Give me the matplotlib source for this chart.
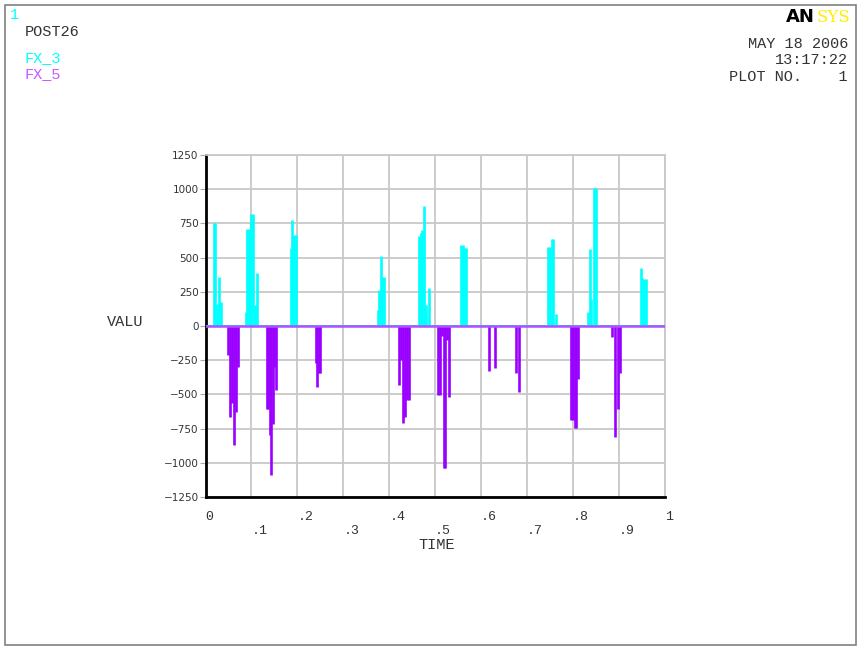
import matplotlib
matplotlib.use("Agg")
import matplotlib.pyplot as plt
from matplotlib.patches import Rectangle

# FX_3 reaction (cyan spikes)
fx3_time = [0.018, 0.021, 0.024, 0.030, 0.034,
            0.088, 0.091, 0.094, 0.097, 0.100, 0.104, 0.108, 0.111,
            0.186, 0.189, 0.193, 0.197,
            0.375, 0.378, 0.381, 0.384, 0.388,
            0.464, 0.468, 0.471, 0.476, 0.480, 0.486,
            0.556, 0.560, 0.564, 0.568,
            0.745, 0.749, 0.753, 0.757, 0.762,
            0.833, 0.836, 0.840, 0.846, 0.850,
            0.947, 0.951, 0.955, 0.959]
fx3_value = [750, 755, 160, 360, 178,
             100, 709, 709, 420, 819, 819, 150, 385,
             570, 775, 665, 665,
             120, 263, 512, 360, 360,
             660, 682, 700, 877, 150, 280,
             592, 592, 573, 573,
             575, 575, 638, 638, 88,
             100, 560, 200, 1006, 1006,
             421, 348, 346, 346]

# FX_5 reaction (purple spikes)
fx5_time = [0.050, 0.054, 0.058, 0.062, 0.066, 0.070,
            0.133, 0.137, 0.140, 0.143, 0.146, 0.149, 0.153,
            0.241, 0.243, 0.247, 0.249,
            0.422, 0.426, 0.430, 0.434, 0.438, 0.442,
            0.507, 0.510, 0.514, 0.518, 0.521, 0.525, 0.529,
            0.617, 0.630, 0.675, 0.683,
            0.796, 0.800, 0.804, 0.807, 0.810,
            0.884, 0.892, 0.898, 0.902]
fx5_value = [-210, -663, -560, -870, -630, -300,
             -610, -610, -800, -1089, -720, -300, -468,
             -270, -443, -341, -341,
             -431, -250, -712, -668, -541, -541,
             -506, -506, -70, -1040, -1040, -100, -521,
             -327, -310, -346, -480,
             -687, -687, -748, -748, -390,
             -78, -814, -609, -345]

x_ticks = [0, 0.1, 0.2, 0.3, 0.4, 0.5, 0.6, 0.7, 0.8, 0.9, 1.0]
x_labels = ["0", ".1", ".2", ".3", ".4", ".5", ".6", ".7", ".8", ".9", "1"]
y_ticks = [1250, 1000, 750, 500, 250, 0, -250, -500, -750, -1000, -1250]

cyan = "#00ffff"
purple = "#9900ff"
mono = "Liberation Mono"

fig = plt.figure(figsize=(8.58, 6.48), dpi=100)
fig.patches.append(Rectangle((5 / 858, 3 / 648), 851 / 858, 640 / 648,
                             transform=fig.transFigure, fill=False,
                             edgecolor="#808080", linewidth=1.2))

ax = fig.add_axes([205.5 / 858, 1 - 497 / 648, 459.5 / 858, 342 / 648])
ax.set_xlim(0, 1)
ax.set_ylim(-1250, 1250)

ax.vlines(fx3_time, 0, fx3_value, color=cyan, linewidth=1.9, zorder=3)
ax.vlines(fx5_time, 0, fx5_value, color=purple, linewidth=1.9, zorder=3)
ax.plot([0, 1], [0, 0], color=cyan, linewidth=1.5, zorder=3)
ax.plot([0, 1], [0, 0], color="#b050ff", linewidth=1.8, zorder=4)

ax.set_xticks(x_ticks)
ax.set_xticklabels([lab if i % 2 == 0 else "\n" + lab for i, lab in enumerate(x_labels)],
                   family=mono, fontsize=9.5, color="#333333")
for lab in ax.get_xticklabels():
    lab.set_horizontalalignment("left")
ax.set_yticks(y_ticks)
ax.set_yticklabels([str(v).replace("-", "\u2212") for v in y_ticks],
                   fontsize=7.5, color="#333333")
ax.tick_params(axis="x", length=0, pad=10)
ax.tick_params(axis="y", length=4, color="#aaaaaa", pad=1)
ax.grid(True, color="#c8c8c8", linewidth=1.3, zorder=0)
ax.set_axisbelow(True)
for side in ["top", "right"]:
    ax.spines[side].set_color("#c8c8c8")
    ax.spines[side].set_linewidth(1.3)
for side in ["left", "bottom"]:
    ax.spines[side].set_color("black")
    ax.spines[side].set_linewidth(2)

fig.text(125 / 858, 1 - 322 / 648, "VALU", family=mono, fontsize=11,
         ha="center", va="center", color="#333333")
fig.text(437 / 858, 1 - 545 / 648, "TIME", family=mono, fontsize=11,
         ha="center", va="center", color="#333333")

fig.text(10 / 858, 1 - 15 / 648, "1", family=mono, fontsize=11, color=cyan,
         ha="left", va="center")
fig.text(25 / 858, 1 - 32 / 648, "POST26", family=mono, fontsize=11,
         color="#333333", ha="left", va="center")
fig.text(25 / 858, 1 - 58 / 648, "FX_3", family=mono, fontsize=11,
         color=cyan, ha="left", va="center")
fig.text(25 / 858, 1 - 74 / 648, "FX_5", family=mono, fontsize=11,
         color="#cc55ff", ha="left", va="center")

fig.text(848 / 858, 1 - 44 / 648, "MAY 18 2006", family=mono, fontsize=11,
         color="#333333", ha="right", va="center")
fig.text(848 / 858, 1 - 60 / 648, "13:17:22", family=mono, fontsize=11,
         color="#333333", ha="right", va="center")
fig.text(848 / 858, 1 - 77 / 648, "PLOT NO.    1", family=mono, fontsize=11,
         color="#333333", ha="right", va="center")

fig.text(786 / 858, 1 - 17 / 648, "AN", family="DejaVu Sans", fontsize=13,
         fontweight="heavy", color="black", ha="left", va="center")
fig.text(817 / 858, 1 - 17 / 648, "SYS", family="DejaVu Serif", fontsize=12,
         color="#ffee00", ha="left", va="center")

fig.savefig("out.png", dpi=100)
